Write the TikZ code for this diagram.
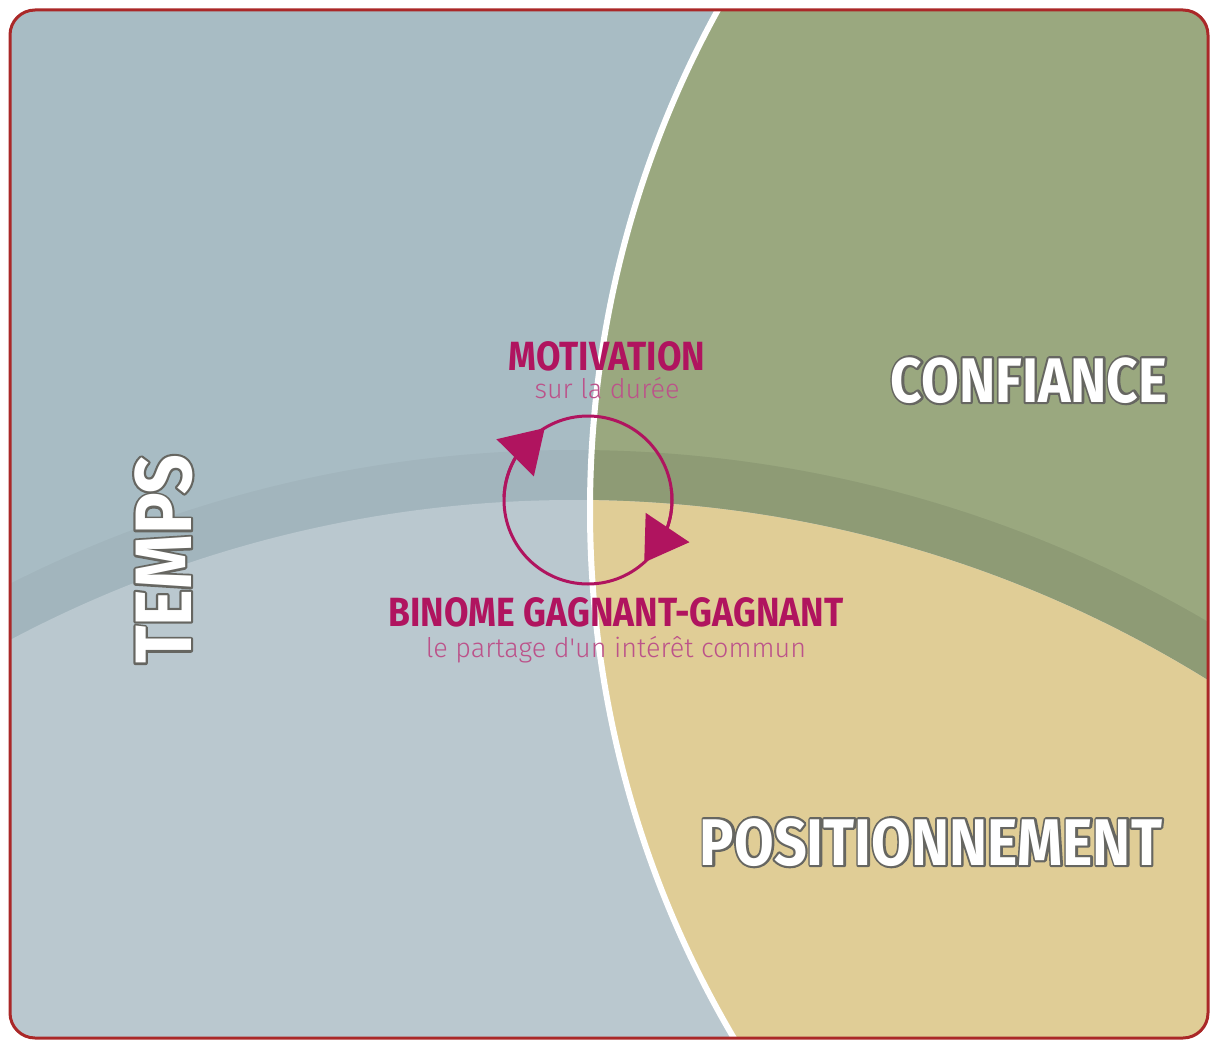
\documentclass[tikz,border=0pt]{standalone}
\usepackage{fontspec}
\setmainfont{Fira Sans}
\newfontfamily\condfont[FakeStretch=0.87]{Fira Sans}
\newfontfamily\lightfont[UprightFont=* Light]{Fira Sans}
\usetikzlibrary{arrows.meta,bending,positioning,calc}

\definecolor{tempsblue}{HTML}{A8BCC4}
\definecolor{tempslight}{HTML}{BAC8CF}
\definecolor{confgreen}{HTML}{9AA87F}
\definecolor{postan}{HTML}{E0CD96}
\definecolor{framered}{HTML}{AA2828}
\definecolor{cycmag}{HTML}{B0145F}
\definecolor{submag}{HTML}{BC528A}

% white letters with a grey outline: stroked copy (render mode 1) under the filled one
\newcommand{\outlined}[1]{\rlap{\special{pdf:literal direct 0.40 0.40 0.38 RG 2.2 w 1 j 1 Tr}#1\special{pdf:literal direct 0 Tr}}{\color{white}#1}}

\begin{document}
\begin{tikzpicture}[x=0.5pt,y=0.5pt,
    title/.style={font=\condfont\bfseries\fontsize{20.4}{22}\selectfont,text=cycmag,inner sep=0pt},
    subtitle/.style={font=\lightfont\fontsize{13.5}{15}\selectfont,text=submag,inner sep=0pt},
    big label/.style={font=\condfont\bfseries\fontsize{31.5}{33}\selectfont,text=white,inner sep=0pt},
    cycle line/.style={draw=cycmag,line width=1.5pt}]

 \useasboundingbox (0,0) rectangle (1210,1041);
  \coordinate (conf) at (1630,531);
  \coordinate (pos) at (574,-663);
  \coordinate (cyc) at (588,541);

  % the three zones
  \begin{scope}
    \clip[rounded corners=12.5pt] (10,3) rectangle (1208,1031);
    \fill[tempsblue] (0,0) rectangle (1210,1041);
    \fill[confgreen] (conf) circle (1040);
    \fill[black,opacity=.035] (pos) circle (1254);
    \begin{scope}
      \clip (conf) circle (1040);
      \fill[black,opacity=.04] (pos) circle (1254);
    \end{scope}
    \fill[tempslight] (pos) circle (1204);
    \begin{scope}
      \clip (conf) circle (1040);
      \fill[postan] (pos) circle (1204);
    \end{scope}
    \draw[white,line width=3pt] (conf) circle (1040);
  \end{scope}
  \draw[framered,line width=1.5pt,rounded corners=12.5pt] (10,3) rectangle (1208,1031);

  % cycle
  \draw[cycle line] (cyc) circle (84);
  \draw[cycle line,-{Triangle[length=21pt,width=26pt]}] ([shift={(178:84)}]cyc) arc[start angle=178,end angle=121,radius=84];
  \draw[cycle line,-{Triangle[length=21pt,width=26pt]}] ([shift={(8:84)}]cyc) arc[start angle=8,end angle=-48,radius=84];

  \node[title,anchor=base] (motiv) at (607,671) {MOTIVATION};
  \node[subtitle,anchor=base] (motivsub) at ([yshift=-14pt]motiv.base) {sur la durée};
  \node[title,anchor=base] (binome) at (616,415) {BINOME GAGNANT-GAGNANT};
  \node[subtitle,anchor=base] (binomesub) at ([yshift=-15.5pt]binome.base) {le partage d'un intérêt commun};

  \node[big label,anchor=base] (confiance) at (1029,639) {\outlined{CONFIANCE}};
  \node[big label,anchor=base,font=\condfont\bfseries\fontsize{33}{35}\selectfont] (position) at (931,176) {\outlined{POSITIONNEMENT}};
  \node[big label,anchor=base,rotate=90,font=\condfont\bfseries\fontsize{40}{42}\selectfont] (temps) at (191,482) {\outlined{TEMPS}};

\end{tikzpicture}
\end{document}
